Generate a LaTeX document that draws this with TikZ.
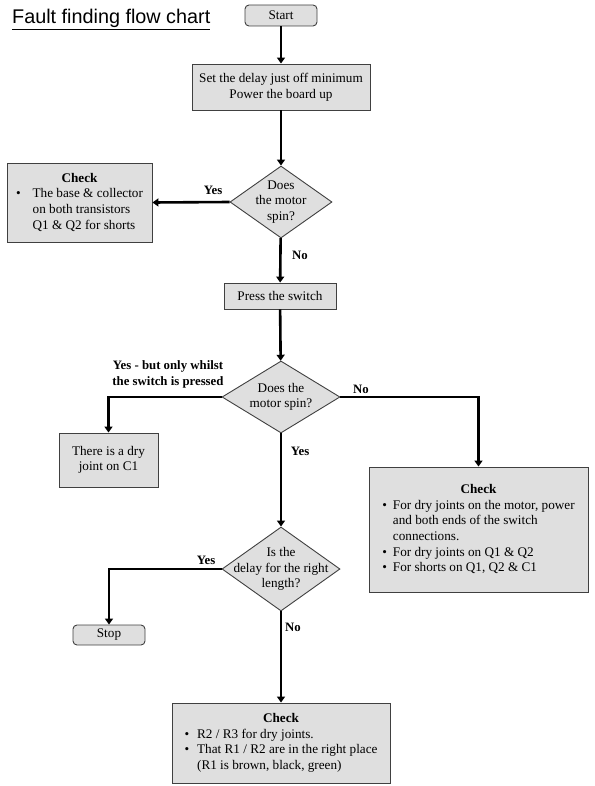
\documentclass[tikz,border=0pt]{standalone}
\usepackage{fontspec}
\setmainfont{Liberation Serif}
\newfontfamily\titlefont{Liberation Sans}
\usepackage{tikz}
\usetikzlibrary{shapes.geometric, arrows.meta}

\definecolor{boxgray}{HTML}{DFDFDF}
\definecolor{edgegray}{HTML}{404040}

\begin{document}
\begin{tikzpicture}[x=1pt, y=-1pt,
    font=\fontsize{13.2}{15.6}\selectfont,
    process/.style={draw=edgegray, fill=boxgray, line width=0.9pt, inner sep=0pt, align=center},
    terminal/.style={process, rounded corners=4pt},
    decision/.style={draw=edgegray, fill=boxgray, line width=0.9pt, shape=diamond, inner sep=0pt},
    flow/.style={line width=2.6pt, -{Triangle[width=8pt, length=6pt]}},
    answer/.style={font=\fontsize{12.8}{15.5}\selectfont\bfseries, inner sep=0pt}]

    \useasboundingbox (0,0) rectangle (594,786);

    % Title
    \node[anchor=base west, inner sep=0pt] (title) at (12,24)
        {\titlefont\fontsize{19.8}{22}\selectfont\underline{Fault finding flow chart}};

    % Draw the boxes of the chart
    \node[terminal, minimum width=72pt, minimum height=21pt] (start) at (281,15.5) {Start};
    \node[process, minimum width=178pt, minimum height=46pt] (setup) at (281,87)
        {Set the delay just off minimum\\Power the board up};
    \node[decision, minimum width=102pt, minimum height=72pt,
        label={[align=center]center:Does\\the motor\\spin?}] (spinA) at (281,202) {};
    \node[process, minimum width=145pt, minimum height=79pt] (checkA) at (79.5,202.5)
        {\begin{tabular}{@{}l@{\hspace{12pt}}l@{}}
         \multicolumn{2}{c}{\textbf{Check}}\\
         \textbullet & The base \& collector\\
         & on both transistors\\
         & Q1 \& Q2 for shorts
         \end{tabular}};
    \node[process, minimum width=112pt, minimum height=26pt] (press) at (280,296) {Press the switch};
    \node[decision, minimum width=118pt, minimum height=72pt,
        label={[align=center]center:Does the\\motor spin?}] (spinB) at (281,397) {};
    \node[process, minimum width=99pt, minimum height=54pt] (dry) at (108.5,460)
        {There is a dry\\joint on C1};
    \node[process, minimum width=219pt, minimum height=125pt] (checkB) at (478.5,529.5)
        {\begin{tabular}{@{}l@{\hspace{6pt}}l@{}}
         \multicolumn{2}{c}{\textbf{Check}}\\
         \textbullet & For dry joints on the motor, power\\
         & and both ends of the switch\\
         & connections.\\
         \textbullet & For dry joints on Q1 \& Q2\\
         \textbullet & For shorts on Q1, Q2 \& C1
         \end{tabular}};
    \node[decision, minimum width=118pt, minimum height=84pt,
        label={[align=center]center:Is the\\delay for the right\\length?}] (delay) at (281,569) {};
    \node[terminal, minimum width=72pt, minimum height=20pt] (stop) at (109,635) {Stop};
    \node[process, minimum width=218pt, minimum height=80pt] (checkC) at (281,743)
        {\begin{tabular}{@{}l@{\hspace{8pt}}l@{}}
         \multicolumn{2}{c}{\textbf{Check}}\\
         \textbullet & R2 / R3 for dry joints.\\
         \textbullet & That R1 / R2 are in the right place\\
         & (R1 is brown, black, green)
         \end{tabular}};

    % Draw the connectors
    \draw[flow] (start) -- (setup);
    \draw[flow] (setup) -- (spinA);
    \draw[flow] (spinA.west) -- (checkA.east);
    \draw[flow] (spinA) -- (press);
    \draw[flow] (press) -- (spinB);
    \draw[flow] (spinB.west) -| (dry.north);
    \draw[flow] (spinB.east) -| (checkB.north);
    \draw[flow] (spinB) -- (delay);
    \draw[flow] (delay.west) -| (stop.north);
    \draw[flow] (delay) -- (checkC);

    % Label the answers
    \node[answer] (yesA) at (213,190) {Yes};
    \node[answer] (noA) at (300,255) {No};
    \node[answer, align=center] (yesB) at (168,374.5) {Yes - but only whilst\\the switch is pressed};
    \node[answer] (noB) at (361,389) {No};
    \node[answer] (yesC) at (300,451) {Yes};
    \node[answer] (yesD) at (206,560) {Yes};
    \node[answer] (noC) at (293,627) {No};

\end{tikzpicture}
\end{document}
